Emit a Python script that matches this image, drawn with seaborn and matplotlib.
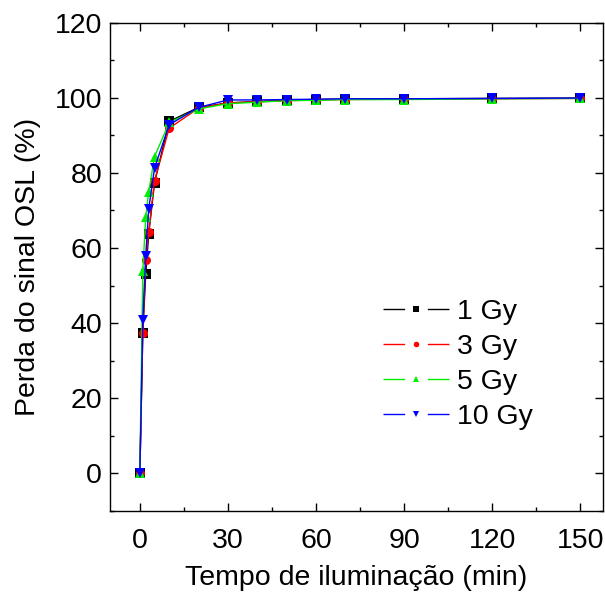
import matplotlib
matplotlib.use("Agg")
import matplotlib.pyplot as plt
from matplotlib.lines import Line2D
from matplotlib.ticker import MultipleLocator
import seaborn as sns
import pandas as pd

# Illumination time (min) and OSL signal loss (%) for each dose
tempo = [0, 1, 2, 3, 5, 10, 20, 30, 40, 50, 60, 70, 90, 120, 150]
perda_1gy = [0, 37.4, 53.0, 63.6, 77.4, 93.7, 97.4, 98.6, 99.0, 99.3, 99.5, 99.6, 99.7, 99.8, 99.9]
perda_3gy = [0, 37.5, 56.9, 64.2, 77.9, 91.9, 97.2, 98.6, 98.9, 99.2, 99.4, 99.5, 99.6, 99.7, 99.8]
perda_5gy = [0, 53.8, 68.2, 74.8, 84.3, 93.4, 97.0, 98.4, 98.8, 99.2, 99.3, 99.5, 99.5, 99.7, 99.8]
perda_10gy = [0, 40.8, 57.8, 70.3, 81.3, 92.8, 97.4, 99.4, 99.4, 99.5, 99.6, 99.7, 99.7, 99.8, 99.9]

doses = ["1 Gy", "3 Gy", "5 Gy", "10 Gy"]
series = [perda_1gy, perda_3gy, perda_5gy, perda_10gy]
colors = ["#000000", "#ff0000", "#00ee00", "#0000ff"]
markers = ["s", "o", "^", "v"]

df = pd.concat(
    [pd.DataFrame({"tempo": tempo, "perda": v, "dose": d}) for d, v in zip(doses, series)],
    ignore_index=True,
)

sns.set_style("ticks")
plt.rcParams["font.family"] = ["Liberation Sans", "DejaVu Sans"]
plt.rcParams["axes.linewidth"] = 1.0
plt.rcParams["text.color"] = "black"
plt.rcParams["axes.labelcolor"] = "black"

FS = 20.5

fig = plt.figure(figsize=(6.05, 5.94), dpi=100)
ax = fig.add_axes([0.1826, 0.1397, 0.8133, 0.8224])

for d, c, m in zip(doses, colors, markers):
    sub = df[df["dose"] == d]
    sns.lineplot(data=sub, x="tempo", y="perda", color=c, marker=m,
                 markersize=6.5, markeredgewidth=0, linewidth=1.0, ax=ax,
                 legend=False)

ax.set_xlim(-10, 157.5)
ax.set_ylim(-10, 120)
ax.xaxis.set_major_locator(MultipleLocator(30))
ax.xaxis.set_minor_locator(MultipleLocator(15))
ax.yaxis.set_major_locator(MultipleLocator(20))
ax.yaxis.set_minor_locator(MultipleLocator(10))
ax.tick_params(which="both", direction="in", top=True, right=True,
               width=1.0, labelsize=FS, colors="black")
ax.tick_params(which="major", length=6, pad=12)
ax.tick_params(which="minor", length=3)
ax.tick_params(axis="y", which="major", pad=6)
for s in ax.spines.values():
    s.set_color("black")

ax.set_xlabel("Tempo de iluminação (min)", fontsize=FS, labelpad=8)
ax.set_ylabel("Perda do sinal OSL (%)", fontsize=FS, labelpad=10)

# Legend entries: short line, marker, short line
handles = [Line2D([], [], color=c, marker=m, markersize=4, markeredgewidth=0,
                  linewidth=1.0, linestyle=(0, (15.6, 16.3, 15.6, 200)))
           for c, m in zip(colors, markers)]
ax.legend(handles, doses, loc="center left", bbox_to_anchor=(0.554, 0.300),
          frameon=False, fontsize=FS, handlelength=2.32, handletextpad=0.28,
          labelspacing=0.31, numpoints=1, borderaxespad=0, borderpad=0)

fig.savefig("out.png", dpi=100)
